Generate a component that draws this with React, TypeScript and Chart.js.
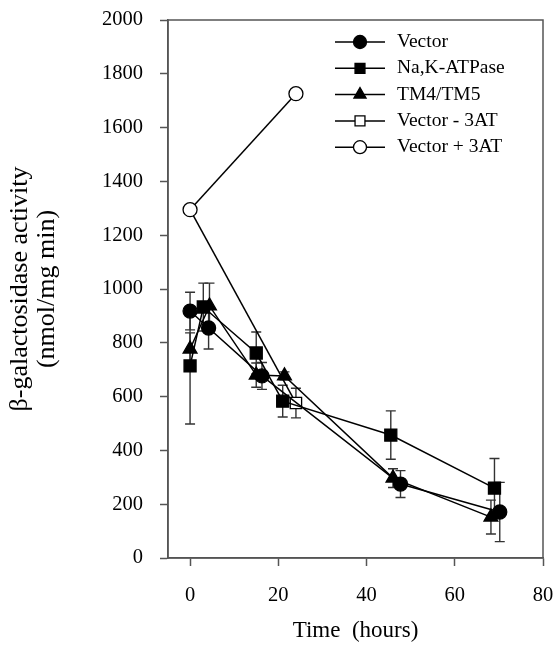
import React, { useEffect, useRef } from 'react';
import { Chart, registerables } from 'chart.js';
import { drawPoint } from 'chart.js/helpers';

Chart.register(...registerables);

const FONT = '"Liberation Serif", "Times New Roman", serif';

// ---- data ----
const xTickValues = [0, 20, 40, 60, 80];
const xMin = -5;
const xMax = 80;
const yMin = 0;
const yMax = 2000;
const yStep = 200;

const seriesLabels = ['Vector', 'Na,K-ATPase', 'TM4/TM5', 'Vector - 3AT', 'Vector + 3AT'];

const vectorX = [0, 4.2, 16.3, 47.7, 70.2];
const vectorY = [918, 855, 677, 275, 171];
const vectorErr = [70, 78, 50, 50, 110];

const atpaseX = [0, 3, 15, 21, 45.5, 69];
const atpaseY = [714, 933, 762, 583, 457, 260];
const atpaseErr = [216, 89, 78, 59, 90, 110];

const tmX = [0, 4.4, 15, 21.4, 46, 68.2];
const tmY = [777, 937, 680, 677, 297, 152];
const tmErr = [60, 85, 45, 15, 35, 63];

const minus3atX = [0, 24];
const minus3atY = [1295, 576];
const minus3atErr = [0, 55];

const plus3atX = [0, 24];
const plus3atY = [1295, 1726];
const plus3atErr = [0, 0];

const toPoints = (xs: number[], ys: number[]) => xs.map((x, i) => ({ x, y: ys[i] }));

// ---- plugins ----
const errorBarPlugin = {
  id: 'errorBars',
  beforeDatasetsDraw(chart: any) {
    const ctx = chart.ctx;
    const yScale = chart.scales.y;
    chart.data.datasets.forEach((ds: any, di: number) => {
      const meta = chart.getDatasetMeta(di);
      if (!ds.errors) return;
      meta.data.forEach((pt: any, i: number) => {
        const e = ds.errors[i];
        if (!e) return;
        const v = ds.data[i].y;
        const yTop = yScale.getPixelForValue(v + e);
        const yBot = yScale.getPixelForValue(v - e);
        const x = pt.x;
        const cap = 5;
        ctx.save();
        ctx.strokeStyle = '#333';
        ctx.lineWidth = 1.4;
        ctx.beginPath();
        ctx.moveTo(x, yTop);
        ctx.lineTo(x, yBot);
        ctx.moveTo(x - cap, yTop);
        ctx.lineTo(x + cap, yTop);
        ctx.moveTo(x - cap, yBot);
        ctx.lineTo(x + cap, yBot);
        ctx.stroke();
        ctx.restore();
      });
    });
  },
};

const framePlugin = {
  id: 'frame',
  afterDraw(chart: any) {
    const { ctx, chartArea } = chart;
    ctx.save();
    ctx.strokeStyle = '#555';
    ctx.lineWidth = 1.5;
    ctx.strokeRect(chartArea.left, chartArea.top, chartArea.right - chartArea.left, chartArea.bottom - chartArea.top);
    ctx.restore();
  },
};

const legendPlugin = {
  id: 'lineLegend',
  afterDraw(chart: any) {
    const ctx = chart.ctx;
    const x0 = 335;
    const x1 = 385;
    const tx = 397;
    const y0 = 42;
    const dy = 26.3;
    chart.data.datasets.forEach((ds: any, i: number) => {
      const y = y0 + i * dy;
      ctx.save();
      ctx.strokeStyle = '#000';
      ctx.lineWidth = 1.5;
      ctx.beginPath();
      ctx.moveTo(x0, y);
      ctx.lineTo(x1, y);
      ctx.stroke();
      ctx.fillStyle = ds.pointBackgroundColor;
      ctx.strokeStyle = ds.pointBorderColor;
      ctx.lineWidth = ds.pointBorderWidth;
      drawPoint(ctx, { pointStyle: ds.pointStyle, rotation: 0, radius: ds.legendRadius, borderWidth: ds.pointBorderWidth }, (x0 + x1) / 2, y);
      ctx.fillStyle = '#000';
      ctx.font = `19.5px ${FONT}`;
      ctx.textBaseline = 'middle';
      ctx.textAlign = 'left';
      ctx.fillText(ds.label, tx, y);
      ctx.restore();
    });
  },
};

export default function App() {
  const ref = useRef<HTMLCanvasElement>(null);

  useEffect(() => {
    document.body.style.margin = '0';
    const canvas = ref.current;
    if (!canvas) return;

    const base = {
      borderColor: '#000',
      borderWidth: 1.5,
      pointBorderColor: '#000',
      pointBorderWidth: 1.3,
      showLine: true,
      fill: false,
      tension: 0,
    };

    const chart = new Chart(canvas, {
      type: 'scatter',
      data: {
        datasets: [
          {
            ...base,
            label: seriesLabels[0],
            data: toPoints(vectorX, vectorY),
            errors: vectorErr,
            pointStyle: 'circle',
            pointRadius: 7,
            legendRadius: 6.5,
            pointBackgroundColor: '#000',
            order: 1,
          },
          {
            ...base,
            label: seriesLabels[1],
            data: toPoints(atpaseX, atpaseY),
            errors: atpaseErr,
            pointStyle: 'rect',
            pointRadius: 8.5,
            legendRadius: 7,
            pointBackgroundColor: '#000',
            order: 1,
          },
          {
            ...base,
            label: seriesLabels[2],
            data: toPoints(tmX, tmY),
            errors: tmErr,
            pointStyle: 'triangle',
            pointRadius: 8,
            legendRadius: 7,
            pointBackgroundColor: '#000',
            order: 1,
          },
          {
            ...base,
            label: seriesLabels[3],
            data: toPoints(minus3atX, minus3atY),
            errors: minus3atErr,
            pointStyle: 'rect',
            pointRadius: (c: any) => (c.dataIndex === 0 ? 0 : 8),
            legendRadius: 7,
            pointBackgroundColor: '#fff',
            order: 1,
          },
          {
            ...base,
            label: seriesLabels[4],
            data: toPoints(plus3atX, plus3atY),
            errors: plus3atErr,
            pointStyle: 'circle',
            pointRadius: 7,
            legendRadius: 6.5,
            pointBackgroundColor: '#fff',
            order: 0,
          },
        ] as any,
      },
      options: {
        animation: false,
        responsive: false,
        devicePixelRatio: 1,
        layout: { autoPadding: false, padding: { top: 20, right: 13, left: 0, bottom: 0 } },
        plugins: {
          legend: { display: false },
          tooltip: { enabled: false },
        },
        scales: {
          x: {
            type: 'linear',
            min: xMin,
            max: xMax,
            afterBuildTicks: (scale: any) => {
              scale.ticks = xTickValues.map((v) => ({ value: v }));
            },
            afterFit: (scale: any) => {
              scale.height = 87;
              scale.paddingLeft = 0;
              scale.paddingRight = 0;
            },
            grid: {
              display: true,
              drawOnChartArea: false,
              drawTicks: true,
              tickLength: 8,
              tickColor: '#555',
              tickWidth: 1.5,
            },
            border: { display: true, color: '#555', width: 1.5 },
            ticks: {
              color: '#000',
              font: { family: FONT, size: 20.5 },
              padding: 17,
              maxRotation: 0,
            },
            title: {
              display: true,
              text: 'Time  (hours)',
              color: '#000',
              font: { family: FONT, size: 23 },
              padding: { top: 0, bottom: 0 },
            },
          },
          y: {
            type: 'linear',
            min: yMin,
            max: yMax,
            ticks: {
              stepSize: yStep,
              color: '#000',
              font: { family: FONT, size: 20.5 },
              padding: 17,
              callback: (v: any) => String(v),
            },
            afterFit: (scale: any) => {
              scale.width = 168;
              scale.paddingTop = 0;
              scale.paddingBottom = 0;
            },
            grid: {
              display: true,
              drawOnChartArea: false,
              drawTicks: true,
              tickLength: 8,
              tickColor: '#555',
              tickWidth: 1.5,
            },
            border: { display: true, color: '#555', width: 1.5 },
            title: {
              display: true,
              text: ['β-galactosidase activity', '(nmol/mg min)'],
              color: '#000',
              font: { family: FONT, size: 26, lineHeight: 1.06 },
              padding: { top: 6, bottom: 0 },
            },
          },
        },
      },
      plugins: [errorBarPlugin, framePlugin, legendPlugin],
    } as any);

    return () => chart.destroy();
  }, []);

  return (
    <div style={{ width: 556, height: 645 }}>
      <canvas ref={ref} width={556} height={645} />
    </div>
  );
}
